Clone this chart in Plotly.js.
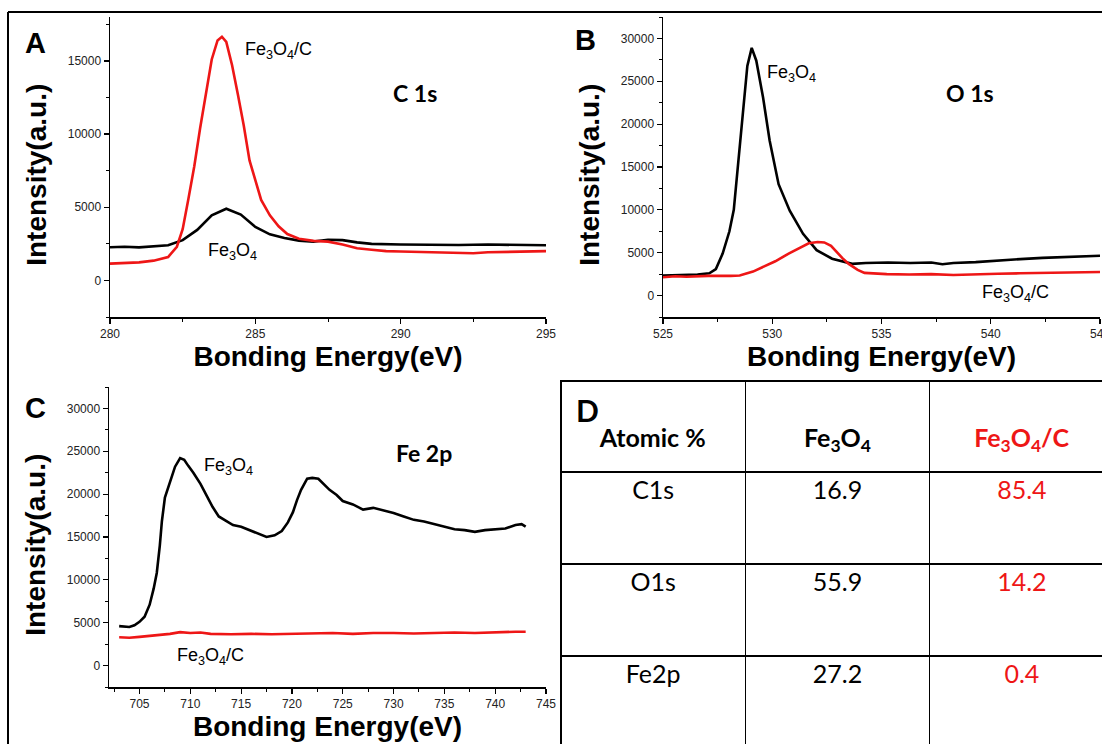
<!DOCTYPE html>
<html>
<head>
<meta charset="utf-8">
<script src="https://cdn.plot.ly/plotly-3.0.1.min.js"></script>
<style>
  html, body { margin: 0; padding: 0; overflow: hidden; background: #fff; }
  #chart { width: 1125px; height: 750px; }
</style>
</head>
<body>
<div id="chart"></div>
<script>
// ---------------- DATA ----------------
// Panel A: C 1s
const c1sEnergy_Fe3O4 = [280, 280.5, 281, 281.5, 282, 282.5, 283, 283.5, 284, 284.5, 285, 285.5, 286, 286.5, 287, 287.5, 288, 288.5, 289, 290, 291, 292, 293, 294, 295];
const c1sInt_Fe3O4    = [2270, 2300, 2260, 2350, 2400, 2750, 3450, 4450, 4900, 4500, 3650, 3150, 2900, 2720, 2650, 2780, 2750, 2600, 2500, 2450, 2430, 2420, 2450, 2410, 2400];
const c1sEnergy_Fe3O4C = [280, 280.5, 281, 281.5, 282, 282.3, 282.5, 282.7, 282.9, 283.1, 283.3, 283.5, 283.7, 283.85, 284.0, 284.2, 284.4, 284.6, 284.8, 285.0, 285.2, 285.5, 285.8, 286.1, 286.5, 287, 287.5, 288, 288.5, 289, 289.5, 290, 291, 292, 292.5, 293, 294, 295];
const c1sInt_Fe3O4C    = [1150, 1180, 1230, 1350, 1600, 2300, 3500, 5600, 7800, 10400, 12900, 15100, 16400, 16650, 16300, 14700, 12700, 10600, 8200, 6800, 5500, 4450, 3700, 3170, 2850, 2700, 2650, 2450, 2200, 2100, 2000, 1980, 1920, 1870, 1860, 1920, 1980, 2000];

// Panel B: O 1s
const o1sEnergy_Fe3O4 = [525, 526.07, 526.58, 527.12, 527.42, 527.73, 528.04, 528.24, 528.55, 528.86, 529.06, 529.27, 529.58, 529.88, 530.29, 530.8, 531.41, 532.03, 532.74, 533.66, 534.28, 535.3, 536.32, 537.28, 537.79, 538.29, 539.31, 540.33, 541.35, 542.37, 543.4, 544.42, 545];
const o1sInt_Fe3O4    = [2340, 2400, 2450, 2600, 3100, 4900, 7500, 10000, 18300, 26800, 28900, 27400, 23100, 18100, 13000, 9900, 7200, 5300, 4300, 3700, 3800, 3850, 3800, 3850, 3650, 3800, 3900, 4100, 4250, 4400, 4500, 4600, 4650];
const o1sEnergy_Fe3O4C = [525, 525.56, 526.07, 527.08, 528.1, 528.51, 529.12, 529.53, 530.14, 530.75, 531.36, 531.67, 532.08, 532.38, 532.69, 532.89, 533.2, 533.5, 533.91, 534.22, 535.24, 536.26, 537.27, 538.29, 539.31, 540.33, 541.35, 542.37, 543.39, 544.41, 545];
const o1sInt_Fe3O4C    = [2140, 2250, 2200, 2300, 2300, 2350, 2800, 3300, 4000, 4900, 5700, 6100, 6250, 6200, 5800, 5200, 4400, 3700, 3000, 2650, 2500, 2450, 2500, 2400, 2500, 2550, 2600, 2650, 2700, 2800, 2750];

// Panel C: Fe 2p
const fe2pEnergy_Fe3O4 = [703, 703.5, 704, 704.5, 705, 705.5, 706, 706.4, 706.7, 707, 707.2, 707.5, 708, 708.5, 709, 709.4, 709.8, 710.3, 711, 711.6, 712.2, 712.8, 713.5, 714.2, 715, 715.5, 716.5, 717.5, 718.3, 719, 719.6, 720.1, 720.5, 720.9, 721.5, 722, 722.6, 723.2, 723.7, 724.4, 725, 726, 727, 728, 729, 730, 731, 732, 733, 734, 735, 736, 737, 738, 739, 740, 741, 742, 742.6, 743];
const fe2pInt_Fe3O4    = [4600, 4550, 4500, 4700, 5100, 5700, 7100, 9000, 10800, 14000, 16800, 19600, 21500, 23200, 24200, 24000, 23300, 22500, 21200, 19800, 18500, 17400, 16900, 16400, 16200, 15950, 15500, 15000, 15200, 15700, 16700, 17900, 19300, 20500, 21800, 21900, 21800, 21100, 20500, 19900, 19200, 18800, 18200, 18400, 18100, 17800, 17400, 17000, 16800, 16500, 16200, 15900, 15800, 15600, 15800, 15900, 16000, 16400, 16500, 16200];
const fe2pEnergy_Fe3O4C = [703, 704, 705, 706, 707, 708, 709, 710, 711, 712, 714, 716, 718, 720, 722, 724, 726, 728, 730, 732, 734, 736, 738, 740, 742, 743];
const fe2pInt_Fe3O4C    = [3300, 3250, 3350, 3450, 3600, 3700, 3900, 3800, 3850, 3700, 3650, 3700, 3650, 3700, 3750, 3800, 3700, 3800, 3800, 3750, 3800, 3850, 3800, 3900, 3950, 3950];

// Panel D: atomic % table
const tableHeader = ["Atomic %", "Fe<sub>3</sub>O<sub>4</sub>", "Fe<sub>3</sub>O<sub>4</sub>/C"];
const tableRows   = ["C1s", "O1s", "Fe2p"];
const atomic_Fe3O4  = [16.9, 55.9, 27.2];
const atomic_Fe3O4C = [85.4, 14.2, 0.4];

// ---------------- LAYOUT ----------------
const W = 1125, H = 750;
const RED = 'rgb(238,22,22)';
const fx = p => p / W;
const fy = p => 1 - p / H;
const LABEL_FONT = 'Liberation Sans, Arial, sans-serif';
const CAL_FONT = 'Lato, Open Sans, sans-serif';

function axis(range, dtick, minorDtick, domain, anchor, title, standoff) {
  return {
    range: range, autorange: false, domain: domain, anchor: anchor,
    showline: true, linecolor: '#000', linewidth: 1.5,
    ticks: 'outside', ticklen: 5, tickwidth: 1.2, tickcolor: '#000',
    tick0: 0, dtick: dtick, tickformat: 'd',
    minor: { dtick: minorDtick, ticks: 'outside', ticklen: 3, tickwidth: 1, tickcolor: '#000', showgrid: false },
    showgrid: false, zeroline: false, fixedrange: true,
    tickfont: { family: LABEL_FONT, size: 12, color: '#222' },
    automargin: false,
    title: { text: title, font: { family: LABEL_FONT, size: 28, color: '#000' }, standoff: standoff }
  };
}
const xTitle = '<b>Bonding Energy(eV)</b>';
const yTitle = '<b>Intensity(a.u.)</b>&nbsp;&nbsp;';

const sub = t => t.replace('Fe3O4', 'Fe<sub>3</sub>O<sub>4</sub>');

const traces = [
  { x: c1sEnergy_Fe3O4, y: c1sInt_Fe3O4, xaxis: 'x', yaxis: 'y', mode: 'lines', line: { color: '#000', width: 2.6 }, name: 'Fe3O4' },
  { x: c1sEnergy_Fe3O4C, y: c1sInt_Fe3O4C, xaxis: 'x', yaxis: 'y', mode: 'lines', line: { color: RED, width: 2.6 }, name: 'Fe3O4/C' },
  { x: o1sEnergy_Fe3O4, y: o1sInt_Fe3O4, xaxis: 'x2', yaxis: 'y2', mode: 'lines', line: { color: '#000', width: 2.6 }, name: 'Fe3O4' },
  { x: o1sEnergy_Fe3O4C, y: o1sInt_Fe3O4C, xaxis: 'x2', yaxis: 'y2', mode: 'lines', line: { color: RED, width: 2.6 }, name: 'Fe3O4/C' },
  { x: fe2pEnergy_Fe3O4, y: fe2pInt_Fe3O4, xaxis: 'x3', yaxis: 'y3', mode: 'lines', line: { color: '#000', width: 2.6 }, name: 'Fe3O4' },
  { x: fe2pEnergy_Fe3O4C, y: fe2pInt_Fe3O4C, xaxis: 'x3', yaxis: 'y3', mode: 'lines', line: { color: RED, width: 2.6 }, name: 'Fe3O4/C' },
  {
    type: 'table',
    domain: { x: [fx(561), fx(1114)], y: [0, fy(381)] },
    columnwidth: [1, 1, 1],
    header: {
      values: tableHeader.map(h => '&nbsp;<br><b>' + h + '</b>'),
      align: 'center', height: 91,
      line: { color: '#000', width: 1.6 },
      fill: { color: '#fff' },
      font: { family: CAL_FONT, size: 25, color: ['#000', '#000', RED] }
    },
    cells: {
      values: [tableRows, atomic_Fe3O4.map(v => v.toFixed(1)), atomic_Fe3O4C.map(v => v.toFixed(1))],
      align: 'center', height: 92,
      line: { color: '#000', width: 1.6 },
      fill: { color: '#fff' },
      font: { family: CAL_FONT, size: 25, color: ['#000', '#000', RED] }
    }
  }
];

const annFont = { family: LABEL_FONT, size: 18, color: '#000' };
const boldCal = { family: CAL_FONT, size: 23, color: '#000' };
const letterFont = { family: LABEL_FONT, size: 29, color: '#000' };
const centered = { xanchor: 'center', yanchor: 'middle', showarrow: false };

const annotations = [
  Object.assign({ xref: 'paper', yref: 'paper', x: fx(35), y: fy(43), text: '<b>A</b>', font: letterFont }, centered),
  Object.assign({ xref: 'paper', yref: 'paper', x: fx(585), y: fy(40), text: '<b>B</b>', font: letterFont }, centered),
  Object.assign({ xref: 'paper', yref: 'paper', x: fx(35), y: fy(408), text: '<b>C</b>', font: letterFont }, centered),
  Object.assign({ xref: 'paper', yref: 'paper', x: fx(588), y: fy(410), text: '<b>D</b>', font: { family: CAL_FONT, size: 30, color: '#000' } }, centered),

  { xref: 'x', yref: 'y', x: 284.58, y: 15700, text: sub('Fe3O4/C'), xanchor: 'left', showarrow: false, font: annFont },
  { xref: 'x', yref: 'y', x: 283.3, y: 2000, text: sub('Fe3O4'), xanchor: 'left', showarrow: false, font: annFont },
  { xref: 'x', yref: 'y', x: 290.5, y: 12800, text: '<b>C 1s</b>', showarrow: false, font: boldCal },

  { xref: 'x2', yref: 'y2', x: 529.67, y: 25900, text: sub('Fe3O4'), xanchor: 'left', showarrow: false, font: annFont },
  { xref: 'x2', yref: 'y2', x: 539.5, y: 200, text: sub('Fe3O4/C'), xanchor: 'left', showarrow: false, font: annFont },
  { xref: 'x2', yref: 'y2', x: 539.05, y: 23600, text: '<b>O 1s</b>', showarrow: false, font: boldCal },

  { xref: 'x3', yref: 'y3', x: 711.15, y: 23200, text: sub('Fe3O4'), xanchor: 'left', showarrow: false, font: annFont },
  { xref: 'x3', yref: 'y3', x: 708.5, y: 1100, text: sub('Fe3O4/C'), xanchor: 'left', showarrow: false, font: annFont },
  { xref: 'x3', yref: 'y3', x: 733.0, y: 24800, text: '<b>Fe 2p</b>', showarrow: false, font: boldCal }
];

const shapes = [
  { type: 'line', xref: 'paper', yref: 'paper', x0: fx(8), y0: fy(12), x1: 1, y1: fy(12), line: { color: '#000', width: 2 } },
  { type: 'line', xref: 'paper', yref: 'paper', x0: fx(8), y0: fy(12), x1: fx(8), y1: 0, line: { color: '#000', width: 2 } }
];

const layout = {
  width: W, height: H,
  margin: { l: 0, r: 0, t: 0, b: 0 },
  paper_bgcolor: '#fff', plot_bgcolor: 'rgba(0,0,0,0)',
  showlegend: false,
  font: { family: LABEL_FONT },
  xaxis:  axis([280, 295], 5, 2.5, [fx(110), fx(546)], 'y', xTitle, 5),
  yaxis:  axis([-2500, 18000], 5000, 2500, [fy(317), fy(17)], 'x', yTitle, 13),
  xaxis2: axis([525, 545], 5, 2.5, [fx(663), fx(1100)], 'y2', xTitle, 5),
  yaxis2: axis([-2500, 32500], 5000, 2500, [fy(317), fy(17)], 'x2', yTitle, 13),
  xaxis3: axis([702, 745], 5, 2.5, [fx(109), fx(546)], 'y3', xTitle, 5),
  yaxis3: axis([-2500, 32500], 5000, 2500, [fy(687), fy(387)], 'x3', yTitle, 13),
  annotations: annotations,
  shapes: shapes
};

Plotly.newPlot('chart', traces, layout, { staticPlot: true, displayModeBar: false });
</script>
</body>
</html>
